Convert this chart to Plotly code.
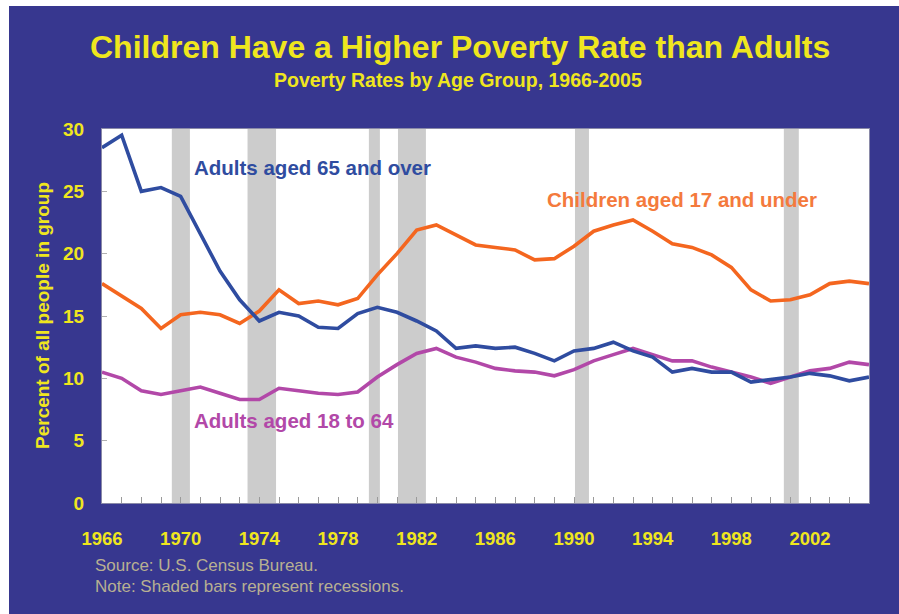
import plotly.graph_objects as go

# Poverty rates by age group, 1966-2005 (percent of all people in group)
years = list(range(1966, 2006))

children_under_18 = [
    17.6, 16.6, 15.6, 14.0, 15.1, 15.3, 15.1, 14.4, 15.4, 17.1,
    16.0, 16.2, 15.9, 16.4, 18.3, 20.0, 21.9, 22.3, 21.5, 20.7,
    20.5, 20.3, 19.5, 19.6, 20.6, 21.8, 22.3, 22.7, 21.8, 20.8,
    20.5, 19.9, 18.9, 17.1, 16.2, 16.3, 16.7, 17.6, 17.8, 17.6,
]
adults_18_to_64 = [
    10.5, 10.0, 9.0, 8.7, 9.0, 9.3, 8.8, 8.3, 8.3, 9.2,
    9.0, 8.8, 8.7, 8.9, 10.1, 11.1, 12.0, 12.4, 11.7, 11.3,
    10.8, 10.6, 10.5, 10.2, 10.7, 11.4, 11.9, 12.4, 11.9, 11.4,
    11.4, 10.9, 10.5, 10.1, 9.6, 10.1, 10.6, 10.8, 11.3, 11.1,
]
adults_65_and_over = [
    28.5, 29.5, 25.0, 25.3, 24.6, 21.6, 18.6, 16.3, 14.6, 15.3,
    15.0, 14.1, 14.0, 15.2, 15.7, 15.3, 14.6, 13.8, 12.4, 12.6,
    12.4, 12.5, 12.0, 11.4, 12.2, 12.4, 12.9, 12.2, 11.7, 10.5,
    10.8, 10.5, 10.5, 9.7, 9.9, 10.1, 10.4, 10.2, 9.8, 10.1,
]

# Recession periods (start, end) on the year axis
recession_starts = [1969.55, 1973.4, 1979.57, 1981.05, 1990.05, 2000.67]
recession_ends = [1970.47, 1974.85, 1980.13, 1982.47, 1990.76, 2001.43]

x_tick_labels = list(range(1966, 2006, 4))
y_tick_labels = [0, 5, 10, 15, 20, 25, 30]

BG = "#37378f"
YELLOW = "#efe61e"
BLUE = "#2f4ca0"
ORANGE = "#f4661f"
MAGENTA = "#b248a8"
FONT = "Liberation Sans, Arial, sans-serif"

fig = go.Figure()

for name, vals, color in [
    ("Children aged 17 and under", children_under_18, ORANGE),
    ("Adults aged 18 to 64", adults_18_to_64, MAGENTA),
    ("Adults aged 65 and over", adults_65_and_over, BLUE),
]:
    fig.add_trace(go.Scatter(
        x=years, y=vals, mode="lines", name=name,
        line=dict(color=color, width=3.6),
        showlegend=False, hoverinfo="x+y+name",
    ))

shapes = []
for s, e in zip(recession_starts, recession_ends):
    shapes.append(dict(type="rect", xref="x", yref="y", x0=s, x1=e, y0=0, y1=30,
                       fillcolor="#cccccc", line=dict(width=0), layer="below"))
# white strips along the top and left edges of the page
shapes.append(dict(type="rect", xref="paper", yref="paper",
                   x0=-0.2, x1=1.1, y0=(503 - 6) / 374, y1=1.5,
                   fillcolor="white", line=dict(width=0), layer="below"))
shapes.append(dict(type="rect", xref="paper", yref="paper",
                   x0=-0.2, x1=(9 - 102) / 767, y0=-0.4, y1=1.5,
                   fillcolor="white", line=dict(width=0), layer="below"))

annotations = [
    dict(text="Children Have a Higher Poverty Rate than Adults",
         xref="paper", yref="paper", x=(460 - 102) / 767, y=(503 - 47) / 374,
         xanchor="center", yanchor="middle", showarrow=False,
         font=dict(family=FONT, size=32, color=YELLOW, weight="bold")),
    dict(text="Poverty Rates by Age Group, 1966-2005",
         xref="paper", yref="paper", x=(458 - 102) / 767, y=(503 - 80) / 374,
         xanchor="center", yanchor="middle", showarrow=False,
         font=dict(family=FONT, size=19.5, color=YELLOW, weight="bold")),
    dict(text="Percent of all people in group",
         xref="paper", yref="paper", x=(42 - 102) / 767, y=0.5,
         xanchor="center", yanchor="middle", showarrow=False, textangle=-90,
         font=dict(family=FONT, size=19, color=YELLOW, weight="bold")),
    dict(text="Source: U.S. Census Bureau.",
         xref="paper", yref="paper", x=(93 - 102) / 767, y=(503 - 565) / 374,
         xanchor="left", yanchor="middle", showarrow=False,
         font=dict(family=FONT, size=17, color="#b8b092")),
    dict(text="Note: Shaded bars represent recessions.",
         xref="paper", yref="paper", x=(93 - 102) / 767, y=(503 - 586) / 374,
         xanchor="left", yanchor="middle", showarrow=False,
         font=dict(family=FONT, size=17, color="#b8b092")),
    dict(text="Adults aged 65 and over", xref="x", yref="y",
         x=1970.58, y=26.95, xanchor="left", yanchor="middle", showarrow=False,
         font=dict(family=FONT, size=20.5, color=BLUE, weight="bold")),
    dict(text="Children aged 17 and under", xref="x", yref="y",
         x=1988.52, y=24.38, xanchor="left", yanchor="middle", showarrow=False,
         font=dict(family=FONT, size=20.5, color="#f47a3c", weight="bold")),
    dict(text="Adults aged 18 to 64", xref="x", yref="y",
         x=1970.58, y=6.58, xanchor="left", yanchor="middle", showarrow=False,
         font=dict(family=FONT, size=20.5, color=MAGENTA, weight="bold")),
]

fig.update_layout(
    width=899, height=614,
    margin=dict(l=102, r=30, t=129, b=111),
    paper_bgcolor=BG, plot_bgcolor="white",
    shapes=shapes, annotations=annotations,
    font=dict(family=FONT),
)
fig.update_xaxes(
    range=[1966, 2005], tickvals=x_tick_labels,
    ticks="inside", ticklen=6, tickcolor="#9a9a9a", tickwidth=1,
    minor=dict(dtick=1, tick0=1966, ticks="inside", ticklen=6, tickcolor="#9a9a9a"),
    showgrid=False, zeroline=False,
    showline=True, linecolor="#8a8aa8", linewidth=1, mirror=True,
    tickfont=dict(family=FONT, size=18.5, color=YELLOW, weight="bold"),
    ticklabelstandoff=19,
)
fig.update_yaxes(
    range=[0, 30], tickvals=y_tick_labels,
    ticks="inside", ticklen=5, tickcolor="#b0b0b0",
    showgrid=False, zeroline=False,
    showline=True, linecolor="#8a8aa8", linewidth=1, mirror=True,
    tickfont=dict(family=FONT, size=19, color=YELLOW, weight="bold"),
    ticklabelstandoff=13,
)

fig.write_html("out.html")
